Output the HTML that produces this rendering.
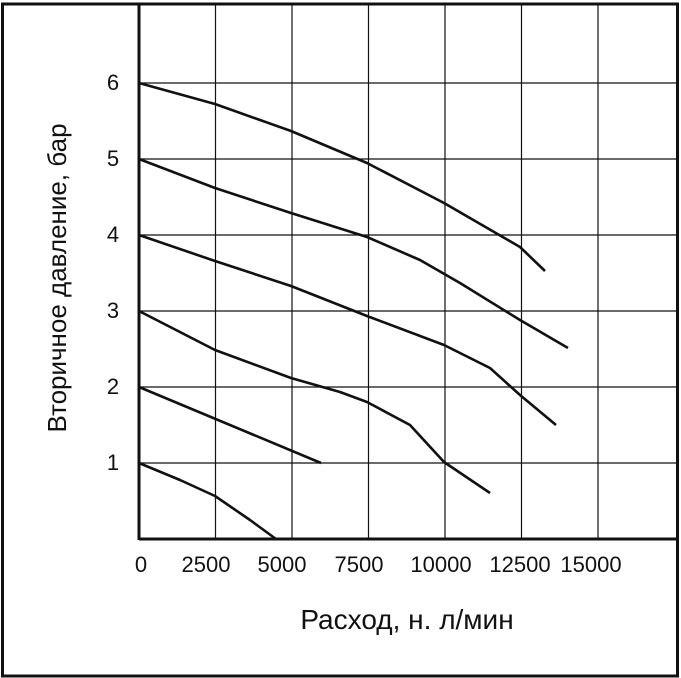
<!DOCTYPE html>
<html><head><meta charset="utf-8"><style>
body{margin:0;background:#fff}
svg{display:block}
text{font-family:"Liberation Sans",sans-serif;fill:#111}
</style></head><body>
<svg width="681" height="678" viewBox="0 0 681 678">
<rect x="2.5" y="4" width="675" height="672" fill="#fff" stroke="#111" stroke-width="3"/>
<g stroke="#111" stroke-width="1.2">
<line x1="215.5" y1="4" x2="215.5" y2="539"/>
<line x1="292" y1="4" x2="292" y2="539"/>
<line x1="368.5" y1="4" x2="368.5" y2="539"/>
<line x1="445" y1="4" x2="445" y2="539"/>
<line x1="521.5" y1="4" x2="521.5" y2="539"/>
<line x1="598" y1="4" x2="598" y2="539"/>
<line x1="139" y1="83" x2="677" y2="83"/>
<line x1="139" y1="159" x2="677" y2="159"/>
<line x1="139" y1="235" x2="677" y2="235"/>
<line x1="139" y1="311" x2="677" y2="311"/>
<line x1="139" y1="387" x2="677" y2="387"/>
<line x1="139" y1="463" x2="677" y2="463"/>
</g>
<line x1="139" y1="539" x2="677" y2="539" stroke="#111" stroke-width="3"/>
<line x1="139" y1="4" x2="139" y2="540" stroke="#111" stroke-width="3"/>
<g fill="none" stroke="#111" stroke-width="2.6" stroke-linejoin="round">
<path d="M139,83 L215,104 L291,131 L367,163 L444,203 L520,247 L545,271"/>
<path d="M139,159 L215,188 L291,213 L367,237 L420,260 L460,283 L520,320 L568,348"/>
<path d="M139,235 L215,261 L291,286 L367,316 L444,345 L490,368 L520,395 L556,425"/>
<path d="M139,311 L215,350 L291,378 L340,392 L367,402 L410,425 L444,462 L490,493"/>
<path d="M139,387 L321,463"/>
<path d="M139,463 L180,480 L215,496 L250,520 L276,539"/>
</g>
<g font-size="22" text-anchor="middle">
<text x="113" y="90">6</text>
<text x="113" y="166">5</text>
<text x="113" y="242">4</text>
<text x="113" y="318">3</text>
<text x="113" y="394">2</text>
<text x="113" y="470">1</text>
<text x="141" y="572">0</text>
<text x="206" y="572">2500</text>
<text x="282" y="572">5000</text>
<text x="359" y="572">7500</text>
<text x="441" y="572">10000</text>
<text x="520" y="572">12500</text>
<text x="591" y="572">15000</text>
</g>
<text x="407" y="629" font-size="28" text-anchor="middle">Расход, н. л/мин</text>
<text transform="translate(66,278) rotate(-90)" font-size="26" text-anchor="middle">Вторичное давление, бар</text>
</svg>
</body></html>
